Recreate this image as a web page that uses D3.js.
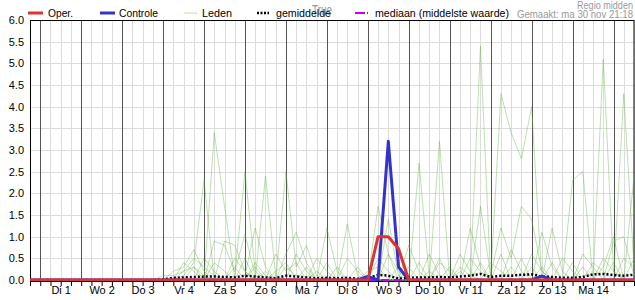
<!DOCTYPE html>
<html><head><meta charset="utf-8">
<script src="https://cdn.jsdelivr.net/npm/d3@7"></script>
<style>
body{margin:0;background:#fff;}
svg{display:block;font-family:"Liberation Sans",Arial,sans-serif;}
</style></head>
<body><svg id="c" width="635" height="300"></svg>
<script>
// ---- data (6-hourly, starting ma 30 nov 18:00) ----
const startTime = Date.UTC(2020, 10, 30, 18);
const stepHours = 6;
const dayLabels = ["Di 1","Wo 2","Do 3","Vr 4","Za 5","Zo 6","Ma 7","Di 8","Wo 9","Do 10","Vr 11","Za 12","Zo 13","Ma 14"];
const yTicks = [0,0.5,1,1.5,2,2.5,3,3.5,4,4.5,5,5.5,6];

const oper = [0,0,0,0,0,0,0,0,0,0, 0,0,0,0,0,0,0,0,0,0, 0,0,0,0,0,0,0,0,0,0,
  0,0,0,0,1.0,1.0,0.72,0,0,0, 0,0,0,0,0,0,0,0,0,0, 0,0,0,0,0,0,0,0,0,0];
const controle = [0,0,0,0,0,0,0,0,0,0, 0,0,0,0,0,0,0,0,0,0, 0,0,0,0,0,0,0,0,0,0,
  0,0,0,0.08,0,3.2,0.3,0,0,0, 0,0,0,0,0,0,0,0,0,0, 0.09,0,0,0,0,0,0,0,0,0];
const gemiddelde = [0,0,0,0,0,0,0,0,0,0, 0,0,0,0.01,0.05,0.06,0.07,0.08,0.08,0.07,
  0.06,0.1,0.08,0.06,0.04,0.1,0.08,0.06,0.04,0.05, 0.04,0.05,0.03,0.04,0.12,0.1,0.03,0.05,0.06,0.06,
  0.07,0.06,0.08,0.1,0.14,0.07,0.1,0.1,0.12,0.13, 0.08,0.07,0.05,0.05,0.07,0.13,0.14,0.11,0.1,0.12];
const mediaan = [0,0,0,0,0,0,0,0,0,0, 0,0,0,0,0,0,0,0,0,0, 0,0,0,0,0,0,0,0,0,0,
  0,0,0,0,0,0,0,0,0,0, 0,0,0,0,0,0,0,0,0,0, 0,0,0,0,0,0,0,0,0,0];

const lid1 = [0,0,0,0,0,0,0,0,0,0, 0,0,0,0,0,0,0.3,0,3.4,1.7, 0.05,0,0,0,0,0,0,0,0,1.2,
  0.2,0,0,0,0,0,0,0,2.7,0.1, 0,0,0,0,5.4,0,0,0,0,0, 0,0,0,0,0,0,0.3,1.0,0,0];
const lid2 = [0,0,0,0,0,0,0,0,0,0, 0,0,0,0,0,0.1,0.4,2.3,0,0, 0,0,0,2.4,0.1,0,0,0,0,0,
  0,0,0,0,1.7,0.6,0,0,0,0, 0,0,0,0,0,0,4.3,3.4,2.8,4.0, 0,0,0,0,0,0,0,0,4.3,0.3];
const lid3 = [0,0,0,0,0,0,0,0,0,0, 0,0,0,0,0,0,0,0,0,0, 0.1,2.5,0.2,0,0,0,0,0,0,0,
  0,1.3,0.1,0,0,0,0,0,0,0, 3.2,0,0,0,0,0,0,0,0,0, 0,0,0,2.3,2.5,0,5.1,0.2,0,0];
const lid4 = [0,0,0,0,0,0,0,0,0,0, 0,0,0,0,0,0,0,0,0,0, 0,0,0,0,0,2.5,0.3,0.8,0.1,0,
  0,0,0,0,0,1.4,0.1,0,0,0, 0,0,0,0,1.7,0.1,1.2,0.5,1.7,1.4, 0.2,0,0,0,0,0,0,0,0,2.4];
const lid5 = [0,0,0,0,0,0,0,0,0,0, 0,0,0,0,0,0,0,0,0.9,0.8, 0.2,1.05,0.1,0,0,0,0,0,0,0,
  0,0,0,0,0,0,0,0.8,0.2,0, 0,0,0,1.2,0.3,0,0,0,0,0, 0,1.2,0.2,0,0,0,0,0,0,0];
const lid6 = [0,0,0,0,0,0,0,0,0,0, 0,0,0,0,0,0,0,0,0,0, 0,0.1,1.2,0.3,0,0.6,1.1,0.4,0,0,
  0,0,0,0,0,0,0,0,0,0, 0,0,0.6,0.2,0,0,0,0,0,0, 1.1,0.3,0,0,0,0,0,0.9,1.0,0.1];
const lid7 = [0,0,0,0,0,0,0,0,0,0, 0,0,0,0,0.2,0.3,0.7,0.2,0,0.9, 0.8,0.2,0,0,0,0,0,0,0.5,0.2,
  0,0,0,0,0,0,0,0,0,0, 0.4,0.2,0,0,0,0,0,0.7,0.2,0, 0,0,0,0,0.6,0.3,0,0,0,0];
const lid8 = [0,0,0,0,0,0,0,0,0,0, 0,0,0,0,0,0.2,0.5,0.3,0.1,0, 0.5,0.2,0,0,0.6,0.2,0.4,0,0,0,
  0,0.5,0.2,0,0,0,0.3,0,0,0.6, 0.1,0,0,0,0,0.4,0.2,0,0,0, 0,0,0.5,0.2,0,0,0,0,0,0];
const lid9 = [0,0,0,0,0,0,0,0,0,0, 0,0,0,0.1,0.1,0.2,0.3,0.1,0,0, 0,0,0.4,0.1,0,0,0.6,0.2,0,0,
  0.3,0,0,0.2,0.3,0,0,0,0,0, 0,0,0.3,0.1,0,0,0,0,0,0.6, 0.2,0,0,0,0,0.4,0.2,0,0,0];
const lid10 = [0,0,0,0,0,0,0,0,0,0, 0,0,0,0,0,0,0,0.5,0.2,0, 0,0,0.3,0,0,0.3,0.1,0,0.2,0,
  0,0,0,0,0.5,0.2,0,0,0.4,0, 0,0.3,0,0.5,0.2,0,0,0.3,0,0, 0,0.4,0,0,0,0,0.5,0.2,0,0.5];
const lid11 = [0,0,0,0,0,0,0,0,0,0, 0,0,0,0,0.05,0,0,0,0.4,0.2, 0,0.5,0,0.2,0,0,0,0.3,0,0.4,
  0,0,0,0.1,0,0,0,0.3,0,0.2, 0,0,0.2,0,0,0,0.6,0,0,0.3, 0,0,0,0.4,0,0,0,0,0.5,0.3];
const lid12 = [0,0,0,0,0,0,0,0,0,0, 0,0,0,0,0,0.4,0.2,0,0,0, 0.3,0,0,0,0.2,0.4,0,0,0,0,
  0,0,0.3,0,0,0.6,0.2,0,0,0, 0.5,0,0,0,0.4,0,0,0,0.5,0, 0.3,0,0,0,0.3,0,0,0.4,0,0];
const leden = [lid1,lid2,lid3,lid4,lid5,lid6,lid7,lid8,lid9,lid10,lid11,lid12];

// ---- drawing ----
const svg = d3.select("#c");
const L = 30, R = 634, T = 20, B = 280;
const FONT = "'Liberation Sans',Arial,sans-serif";
const times = oper.map((d,i) => new Date(startTime + i*stepHours*3600e3));
const x = d3.scaleUtc().domain([times[0], times[times.length-1]]).range([L, R]);
const y = d3.scaleLinear().domain([0, 6]).range([B, T]);

// horizontal grid
svg.append("g").selectAll("line").data(yTicks).join("line")
  .attr("x1", L).attr("x2", R).attr("y1", d=>Math.round(y(d))+0.5).attr("y2", d=>Math.round(y(d))+0.5)
  .attr("stroke", "#dcdcdc").attr("stroke-width", 1);

// vertical grid (6h) and day lines
const gridTimes = d3.utcHour.every(6).range(times[0], new Date(+times[times.length-1]+1));
svg.append("g").selectAll("line").data(gridTimes.filter(t=>t.getUTCHours()!==0)).join("line")
  .attr("x1", d=>Math.round(x(d))+0.5).attr("x2", d=>Math.round(x(d))+0.5).attr("y1", T).attr("y2", B)
  .attr("stroke", "#dcdcdc").attr("stroke-width", 1);
svg.append("g").selectAll("line").data(gridTimes.filter(t=>t.getUTCHours()===0)).join("line")
  .attr("x1", d=>Math.round(x(d))+0.5).attr("x2", d=>Math.round(x(d))+0.5).attr("y1", T).attr("y2", B)
  .attr("stroke", "#555").attr("stroke-width", 1);

// frame
svg.append("rect").attr("x", L+0.5).attr("y", T+0.5).attr("width", R-L-0.5).attr("height", B-T)
  .attr("fill", "none").attr("stroke", "#000").attr("stroke-width", 1);

const line = d3.line().x((d,i)=>x(times[i])).y(d=>y(d));

// members
svg.append("g").selectAll("path").data(leden).join("path")
  .attr("d", line).attr("fill","none").attr("stroke","#5cb23c").attr("stroke-opacity",0.4)
  .attr("stroke-width",1);

// mean
svg.append("path").attr("d", line(gemiddelde)).attr("fill","none").attr("stroke","#000")
  .attr("stroke-width",2.5).attr("stroke-dasharray","2,2");
// median
svg.append("path").attr("d", line(mediaan)).attr("fill","none").attr("stroke","#cc00ee")
  .attr("stroke-width",2).attr("stroke-dasharray","8,2,1,2");
// control
svg.append("path").attr("d", line(controle)).attr("fill","none").attr("stroke","#3333cc")
  .attr("stroke-width",3).attr("stroke-linejoin","round");
// oper
svg.append("path").attr("d", line(oper)).attr("fill","none").attr("stroke","#dd3333")
  .attr("stroke-width",3).attr("stroke-linejoin","round");

// bottom axis: 6-hour ticks
const xa = svg.append("g").attr("transform",`translate(0,${B+1})`)
  .call(d3.axisBottom(x).tickValues(gridTimes).tickFormat("").tickSize(5).tickSizeOuter(0));
xa.select(".domain").attr("stroke","#000");
// day labels at noon
const noons = dayLabels.map((d,i)=>new Date(Date.UTC(2020,11,i+1,12)));
const xl = svg.append("g").attr("transform",`translate(0,${B+1})`)
  .call(d3.axisBottom(x).tickValues(noons).tickFormat((d,i)=>dayLabels[i]).tickSize(0).tickPadding(5));
xl.select(".domain").remove();
xl.selectAll("text").attr("font-size",11).attr("font-family",FONT).attr("fill","#000");

// y axis
const ya = svg.append("g").attr("transform",`translate(${L},0)`)
  .call(d3.axisLeft(y).tickValues(yTicks).tickFormat(d3.format(".1f")).tickSize(0).tickPadding(6));
ya.select(".domain").remove();
ya.selectAll("text").attr("font-size",11).attr("font-family",FONT).attr("fill","#000");

// title (faint, behind legend)
svg.append("text").attr("x",322).attr("y",15).attr("text-anchor","middle").attr("font-family",FONT)
  .attr("font-size",14).attr("fill","#999").attr("textLength",20).attr("lengthAdjust","spacingAndGlyphs").text("True");

// legend
const lg = svg.append("g").attr("font-size",11.5).attr("font-family",FONT);
function lt(xp, txt, w){
  lg.append("text").attr("x",xp).attr("y",17).attr("textLength",w).attr("lengthAdjust","spacingAndGlyphs").text(txt);
}
lg.append("line").attr("x1",28).attr("x2",43).attr("y1",13).attr("y2",13).attr("stroke","#dd3333").attr("stroke-width",3);
lt(48, "Oper.", 25);
lg.append("line").attr("x1",100).attr("x2",115).attr("y1",13).attr("y2",13).attr("stroke","#3333cc").attr("stroke-width",3);
lt(119, "Controle", 39);
lg.append("line").attr("x1",184).attr("x2",197).attr("y1",13).attr("y2",13).attr("stroke","#5cb23c").attr("stroke-opacity",0.4).attr("stroke-width",1);
lt(202, "Leden", 30);
lg.append("line").attr("x1",257).attr("x2",269).attr("y1",13).attr("y2",13).attr("stroke","#000").attr("stroke-width",2.5).attr("stroke-dasharray","2,1.5");
lt(276, "gemiddelde", 55);
lg.append("line").attr("x1",355).attr("x2",369).attr("y1",13).attr("y2",13).attr("stroke","#cc00ee").attr("stroke-width",2).attr("stroke-dasharray","10,2,1,5");
lt(375, "mediaan (middelste waarde)", 134);

svg.append("text").attr("x",633).attr("y",9).attr("text-anchor","end").attr("font-family",FONT).attr("font-size",10)
  .attr("fill","#999").attr("textLength",56).attr("lengthAdjust","spacingAndGlyphs").text("Regio midden");
svg.append("text").attr("x",633).attr("y",18).attr("text-anchor","end").attr("font-family",FONT).attr("font-size",10)
  .attr("fill","#999").attr("textLength",116).attr("lengthAdjust","spacingAndGlyphs").text("Gemaakt: ma 30 nov 21:18");
</script></body></html>
